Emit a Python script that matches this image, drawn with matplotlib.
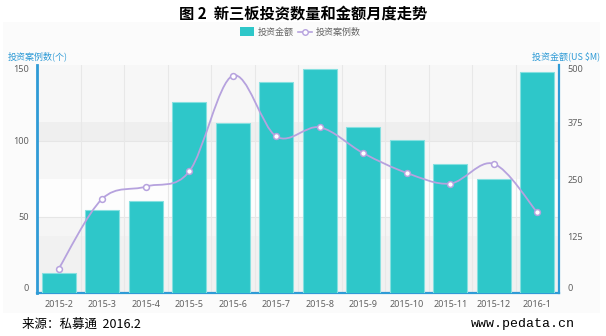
import matplotlib
matplotlib.use("Agg")
import matplotlib.pyplot as plt
import numpy as np
from matplotlib.path import Path
from matplotlib.patches import PathPatch, Rectangle
from matplotlib.lines import Line2D

plt.rcParams['font.family'] = ['Noto Sans CJK SC', 'DejaVu Sans']

categories = ["2015-2", "2015-3", "2015-4", "2015-5", "2015-6", "2015-7",
              "2015-8", "2015-9", "2015-10", "2015-11", "2015-12", "2016-1"]
amount = [43, 182, 202, 418, 373, 462, 492, 363, 335, 283, 249, 485]   # US $M (right axis)
cases = [16, 62, 70, 80, 143, 103, 109, 92, 79, 72, 85, 53]            # count (left axis)
left_ticks = [0, 50, 100, 150]
right_ticks = [0, 125, 250, 375, 500]

title = "图 2  新三板投资数量和金额月度走势"
bar_name = "投资金额"
line_name = "投资案例数"
left_name = "投资案例数(个)"
right_name = "投资金额(US $M)"
source = "来源：私募通  2016.2"
url = "www.pedata.cn"

bar_color = "#2ec7c9"
line_color = "#b6a2de"
axis_blue = "#2f9bd6"
tick_gray = "#606060"

W, H = 606, 336
fig = plt.figure(figsize=(W / 100, H / 100), dpi=100)
fig.patch.set_facecolor("white")

# light canvas background of the chart widget
fig.patches.append(Rectangle((3 / W, 1 - 313 / H), 597 / W, (313 - 22) / H,
                             transform=fig.transFigure, facecolor="#fbfbfb",
                             edgecolor="none", zorder=-10))

x0, x1, ytop, ybot = 37, 559, 65, 293
ax = fig.add_axes([x0 / W, 1 - ybot / H, (x1 - x0) / W, (ybot - ytop) / H])
ax2 = ax.twinx()
ax3 = ax2.twinx()
ax2.yaxis.tick_right()
ax2.yaxis.set_label_position("right")

n = len(categories)
x = np.arange(n)
for a in (ax, ax2, ax3):
    a.set_xlim(-0.5, n - 0.5)
ax.set_ylim(0, 150)
ax2.set_ylim(0, 500)
ax3.set_ylim(0, 150)

# split-area bands (left-axis units)
bands = [(112.5, 150, "#f7f7f7"), (100, 112.5, "#efefef"), (75, 100, "#f6f6f6"),
         (50, 75, "#fdfdfd"), (37.5, 50, "#f5f5f5"), (0, 37.5, "#f1f1f1")]
ax.set_facecolor("#fbfbfb")
for lo, hi, c in bands:
    ax.axhspan(lo, hi, color=c, zorder=0, lw=0)
for v in [50, 100]:
    ax.axhline(v, color="#e6e6e6", lw=0.8, zorder=0.5)
for v in np.arange(0.5, n - 1, 1):
    ax.axvline(v, color="#e8e8e8", lw=0.8, zorder=0.5)

# bars on right axis
ax2.bar(x, amount, width=0.78, color=bar_color, edgecolor="#86e0e0",
        linewidth=0.8, zorder=2)

# smooth line (Catmull-Rom through the data points) on left-scale axis
pts = np.column_stack([x, cases]).astype(float)
verts = [pts[0]]
codes = [Path.MOVETO]
for i in range(n - 1):
    p0 = pts[i - 1] if i > 0 else pts[i]
    p1 = pts[i]
    p2 = pts[i + 1]
    p3 = pts[i + 2] if i + 2 < n else pts[i + 1]
    c1 = p1 + (p2 - p0) / 6.0
    c2 = p2 - (p3 - p1) / 6.0
    verts += [c1, c2, p2]
    codes += [Path.CURVE4] * 3
ax3.axis("off")
ax3.add_patch(PathPatch(Path(verts, codes), facecolor="none", edgecolor=line_color,
                        lw=1.3, zorder=3))
ax3.plot(x, cases, linestyle="none", marker="o", markersize=4.2,
         markerfacecolor="white", markeredgecolor=line_color, markeredgewidth=1.1,
         zorder=4)

# axes styling
for a in (ax, ax2):
    for s in a.spines.values():
        s.set_visible(False)
ax.spines["left"].set_visible(True)
ax.spines["left"].set_color(axis_blue)
ax.spines["left"].set_linewidth(2.0)
ax.spines["bottom"].set_visible(True)
ax.spines["bottom"].set_color(axis_blue)
ax.spines["bottom"].set_linewidth(1.6)
ax2.spines["right"].set_visible(True)
ax2.spines["right"].set_color(axis_blue)
ax2.spines["right"].set_linewidth(1.6)

ax.set_xticks(np.arange(-0.5, n, 1))
ax.set_xticklabels([])
ax.tick_params(axis="x", length=4, width=0.8, color="#555555", direction="out")
ax.set_xticks(x, minor=True)
ax.set_xticklabels(categories, minor=True, fontsize=6.5, color=tick_gray,
                   family=["Noto Sans", "DejaVu Sans"])
ax.tick_params(axis="x", which="minor", length=0, pad=5)
ax2.set_xticks([])

ax.set_yticks(left_ticks)
ax.set_yticklabels([str(v) for v in left_ticks], fontsize=6.5, color=tick_gray,
                   family=["Noto Sans", "DejaVu Sans"])
ax.tick_params(axis="y", length=0, pad=6)
ax2.set_yticks(right_ticks)
ax2.set_yticklabels([str(v) for v in right_ticks], fontsize=6.5, color=tick_gray,
                    family=["Noto Sans", "DejaVu Sans"])
ax2.tick_params(axis="y", length=0, pad=6, left=False, labelleft=False,
                right=True, labelright=True)
# first and last labels sit inside the axis range, as in the original widget
for a in (ax, ax2):
    labs = a.get_yticklabels()
    labs[0].set_va("bottom")
    labs[-1].set_va("top")

# texts
fig.text(0.5, 1 - 14 / H, title, ha="center", va="center", fontsize=11,
         fontweight="bold", color="black")
fig.text(8 / W, 1 - 56 / H, left_name, ha="left", va="center", fontsize=6.5,
         color=axis_blue)
fig.text(600 / W, 1 - 56 / H, right_name, ha="right", va="center", fontsize=6.5,
         color=axis_blue)

# legend
ly = 1 - 32 / H
fig.patches.append(Rectangle((240 / W, ly - 4 / H), 14 / W, 9 / H,
                             transform=fig.transFigure, facecolor=bar_color,
                             edgecolor="none", zorder=5))
fig.text(258 / W, ly, bar_name, ha="left", va="center", fontsize=6.5, color="#666666")
fig.lines.append(Line2D([298 / W, 312 / W], [ly, ly], transform=fig.transFigure,
                        color=line_color, lw=1.2))
fig.lines.append(Line2D([305 / W], [ly], transform=fig.transFigure, color=line_color,
                        marker="o", markersize=4, markerfacecolor="white",
                        markeredgewidth=1.0, linestyle="none"))
fig.text(316 / W, ly, line_name, ha="left", va="center", fontsize=6.5, color="#666666")

fig.text(22 / W, 1 - 324 / H, source, ha="left", va="center", fontsize=9,
         color="black")
fig.text(575 / W, 1 - 324 / H, url, ha="right", va="center", fontsize=9.5,
         color="black", family=["Liberation Mono", "DejaVu Sans Mono"])

fig.savefig("out.png", dpi=100)
